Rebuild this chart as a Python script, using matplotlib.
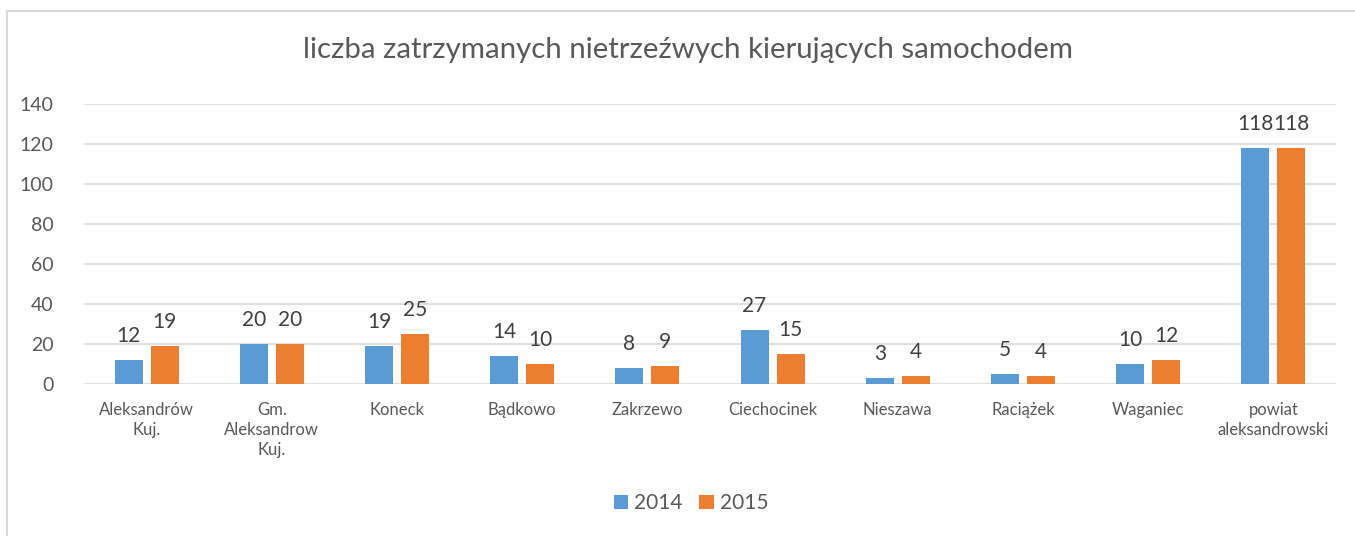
import matplotlib.pyplot as plt
import numpy as np
from matplotlib.lines import Line2D

categories = ["Aleksandrów\nKuj.", "Gm.\nAleksandrow\nKuj.", "Koneck", "Bądkowo", "Zakrzewo",
              "Ciechocinek", "Nieszawa", "Raciążek", "Waganiec", "powiat\naleksandrowski"]
values_2014 = [12, 20, 19, 14, 8, 27, 3, 5, 10, 118]
values_2015 = [19, 20, 25, 10, 9, 15, 4, 4, 12, 118]
series_names = ["2014", "2015"]
colors = ["#5B9BD5", "#ED7D31"]

plt.rcParams['font.family'] = ['Lato', 'DejaVu Sans']

fig = plt.figure(figsize=(13.55, 5.36), dpi=100)
# chart border: only the top and left edges fall inside the picture
bx, by = 7.5 / 1355, 1 - 10.5 / 536
fig.add_artist(Line2D([bx, bx], [0, by], transform=fig.transFigure, color="#D9D9D9", lw=1.5))
fig.add_artist(Line2D([bx, 1], [by, by], transform=fig.transFigure, color="#D9D9D9", lw=1.5))

ax = fig.add_axes([84 / 1355, 1 - 384.3 / 536, (1336 - 84) / 1355, 280 / 536])

x = np.arange(len(categories))
w = 0.224
gap = 0.064
off = (w + gap) / 2
for i, (vals, name) in enumerate(zip([values_2014, values_2015], series_names)):
    pos = x - off if i == 0 else x + off
    bars = ax.bar(pos, vals, width=w, color=colors[i], label=name, zorder=3)
    for b, v in zip(bars, vals):
        ax.annotate(str(v), (b.get_x() + b.get_width() / 2, v), xytext=(0, 10),
                    textcoords="offset points", ha="center", va="bottom",
                    fontsize=15, color="#404040")

ax.set_xlim(-0.5, len(categories) - 0.5)
ax.set_ylim(0, 140)
ax.set_yticks(range(0, 141, 20))
ax.yaxis.grid(True, color="#D9D9D9", linewidth=1.2, zorder=0)
for s in ax.spines.values():
    s.set_visible(False)
ax.set_xticks(x)
ax.set_xticklabels(categories, fontsize=12, color="#595959", linespacing=1.3)
ax.tick_params(axis="x", length=0, pad=13)
ax.tick_params(axis="y", length=0, pad=22, labelsize=14, labelcolor="#595959")

fig.text(688 / 1355, 1 - 50 / 536, "liczba zatrzymanych nietrzeźwych kierujących samochodem",
         ha="center", va="center", fontsize=21.2, color="#595959")

fig.legend(loc="center", bbox_to_anchor=(691 / 1355, 1 - 503 / 536), ncol=2, frameon=False,
           fontsize=15, labelcolor="#595959", handlelength=0.68, handleheight=0.68,
           handletextpad=0.3, columnspacing=0.8)

fig.savefig("out.png", dpi=100)
